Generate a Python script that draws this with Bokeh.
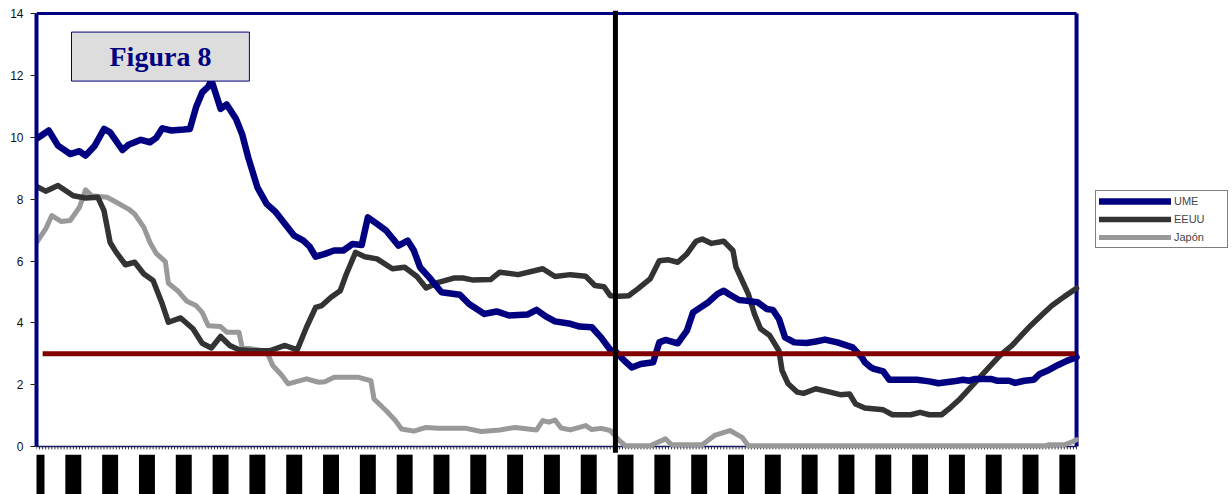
from bokeh.plotting import figure
from bokeh.models import Legend, LegendItem, Label, Range1d, FixedTicker, BoxAnnotation
from bokeh.embed import file_html
from bokeh.resources import INLINE

# ---- data (observation index, value in %) ----
ume_t = [0,4,7,11,14,16,19,22,24,28,30,34,37,39,41,44,48,50,52,54,
         56,57,60,62,65,67,69,72,75,78,81,84,87,89,91,94,97,100,103,106,
         108,111,114,118,121,123,125,128,132,138,141,146,150,154,160,163,166,169,174,177,
         181,184,187,189,191,194,197,201,203,205,209,212,214,219,222,224,226,229,231,235,
         238,240,242,244,247,251,254,257,261,266,267,269,270,272,273,276,278,287,291,294,
         299,302,304,306,311,313,317,319,322,325,327,330,333,336,339]
ume_v = [9.95,10.22,9.73,9.46,9.55,9.41,9.73,10.27,10.16,9.59,
         9.76,9.92,9.84,9.98,10.29,10.22,10.25,10.27,10.97,11.45,
         11.64,11.85,10.92,11.06,10.6,10.11,9.35,8.38,7.85,7.58,
         7.2,6.82,6.66,6.47,6.14,6.23,6.34,6.34,6.55,6.52,
         7.41,7.2,6.98,6.5,6.66,6.34,5.8,5.47,4.99,4.91,
         4.61,4.29,4.37,4.24,4.27,4.42,4.21,4.05,3.97,3.88,
         3.86,3.53,3.13,3.05,2.84,2.56,2.67,2.73,3.37,3.45,
         3.34,3.75,4.34,4.67,4.94,5.04,4.91,4.74,4.72,4.67,
         4.45,4.42,4.13,3.53,3.37,3.35,3.4,3.46,3.37,3.21,
         3.1,2.89,2.73,2.56,2.51,2.43,2.16,2.16,2.11,2.05,
         2.11,2.16,2.13,2.19,2.19,2.13,2.13,2.06,2.13,2.16,
         2.35,2.48,2.64,2.78,2.89]

eeuu_t = [0,3,7,12,16,20,22,24,26,29,32,35,38,41,43,47,51,54,57,60,
          63,66,70,76,81,85,88,91,93,96,99,101,104,107,111,116,120,124,127,131,
          136,139,142,148,151,157,165,169,174,179,182,185,187,190,193,196,200,203,206,209,
          212,215,217,220,224,227,228,230,232,234,236,239,242,243,245,248,250,254,258,262,
          265,267,270,276,279,285,288,291,295,298,301,305,310,314,318,322,324,328,331,335,339]
eeuu_v = [8.41,8.26,8.44,8.11,8.04,8.06,7.63,6.6,6.28,5.88,5.96,5.58,5.37,4.61,4.02,4.16,3.81,3.34,3.19,3.56,
          3.27,3.13,3.1,3.1,3.27,3.13,3.86,4.5,4.56,4.83,5.04,5.58,6.28,6.14,6.07,5.75,5.8,5.5,5.13,5.31,
          5.45,5.45,5.39,5.4,5.64,5.56,5.75,5.5,5.56,5.51,5.21,5.17,4.88,4.86,4.88,5.1,5.42,6.01,6.04,5.96,
          6.23,6.64,6.71,6.57,6.64,6.34,5.8,5.37,4.94,4.29,3.81,3.59,3.1,2.46,2.03,1.76,1.72,1.87,1.78,1.68,
          1.7,1.38,1.25,1.19,1.03,1.03,1.11,1.03,1.03,1.27,1.54,1.97,2.51,2.94,3.27,3.7,3.91,4.29,4.56,4.85,5.12]

jap_t = [0,3,5,8,11,14,16,18,23,26,30,32,35,37,39,42,43,46,49,52,
         54,56,60,62,66,67,72,75,77,80,82,85,88,92,94,97,105,109,110,114,
         117,119,123,127,131,140,145,151,156,163,165,167,169,171,174,179,181,184,187,188,
         190,192,200,205,207,217,221,226,230,232,329,330,335,338,339]
jap_v = [6.6,7.04,7.47,7.28,7.31,7.74,8.3,8.11,8.06,7.9,7.68,7.52,7.09,6.6,6.25,5.98,5.28,5.04,4.7,4.56,
         4.34,3.91,3.88,3.7,3.7,3.21,3.13,3.08,2.62,2.3,2.03,2.11,2.19,2.08,2.1,2.24,2.24,2.13,1.54,1.16,
         0.84,0.57,0.5,0.62,0.59,0.59,0.49,0.54,0.62,0.54,0.84,0.79,0.86,0.6,0.54,0.68,0.55,0.59,0.52,0.41,
         0.19,0.03,0.03,0.25,0.06,0.06,0.36,0.52,0.3,0.03,0.03,0.06,0.06,0.17,0.22]

series_names = ["UME", "EEUU", "Japón"]
series_colors = ["#000080", "#333333", "#999999"]
umbral = 3.0          # horizontal reference level
corte = 188.7         # vertical divider (observation index)
n_obs = 339           # last observation index
etiquetas = list(range(0, 337, 12))   # category label positions (render as solid blocks)
y_ticks = list(range(0, 15, 2))

PX = 3.068   # pixels per observation
PY = 30.93   # pixels per unit of value

W, H = 1232, 494
left_border, top_border = 36, 10
frame_w = W - left_border
frame_h = H - top_border
y_top = 14.1
p = figure(width=W, height=H, output_backend="svg", toolbar_location=None,
           x_range=Range1d(0, frame_w / PX),
           y_range=Range1d(y_top - frame_h / PY, y_top),
           x_axis_location=None,
           min_border_left=left_border, min_border_right=0,
           min_border_top=top_border, min_border_bottom=0)
p.outline_line_color = None
p.grid.visible = False
p.background_fill_color = "white"
p.border_fill_color = "white"

ya = p.yaxis[0]
ya.ticker = FixedTicker(ticks=y_ticks)
ya.bounds = (0, 14)
ya.axis_line_color = "#000080"
ya.axis_line_width = 4
ya.major_tick_out = 6
ya.major_tick_in = 0
ya.minor_tick_out = 0
ya.minor_tick_in = 0
ya.major_tick_line_color = "#222222"
ya.major_label_standoff = 7
ya.major_label_text_font = "Liberation Sans"
ya.major_label_text_font_size = "12px"
ya.major_label_text_color = "#111111"

# frame borders (top, right) and bottom axis line with small ticks
p.segment(x0=[0], y0=[14], x1=[n_obs], y1=[14], line_color="#000080", line_width=3)
p.segment(x0=[n_obs], y0=[0], x1=[n_obs], y1=[14], line_color="#000080", line_width=4)
ticks = list(range(0, n_obs + 1))
p.segment(x0=ticks, y0=[0] * len(ticks), x1=ticks, y1=[-0.09] * len(ticks),
          line_color="#333333", line_width=1)
p.segment(x0=[0], y0=[0], x1=[n_obs], y1=[0], line_color="#1a1a60", line_width=1.5)

# category labels (rendered as solid black blocks in the source)
for t in etiquetas:
    p.add_layout(BoxAnnotation(left=t - 2.6, right=t + 2.6, top=-0.26, bottom=-1.6,
                               fill_color="black", fill_alpha=1.0, line_color=None,
                               line_alpha=0.0, propagate_hover=False))

# series
rj = p.line(jap_t, jap_v, line_color=series_colors[2], line_width=5, line_join="round", line_cap="round")
re = p.line(eeuu_t, eeuu_v, line_color=series_colors[1], line_width=5.5, line_join="round", line_cap="round")
ru = p.line(ume_t, ume_v, line_color=series_colors[0], line_width=6.5, line_join="round", line_cap="round")

# reference lines
p.segment(x0=[2], y0=[umbral], x1=[n_obs - 0.5], y1=[umbral], line_color="#800000", line_width=5)
p.segment(x0=[corte], y0=[-0.2], x1=[corte], y1=[y_top], line_color="black", line_width=5)

legend = Legend(items=[LegendItem(label=n, renderers=[r]) for n, r in zip(series_names, [ru, re, rj])],
                location=(1095 - left_border, H - 248),
                glyph_width=72, glyph_height=14, spacing=4, padding=3,
                label_standoff=3, label_width=50,
                label_text_font="Liberation Sans", label_text_font_size="11px",
                border_line_color="black", border_line_width=1,
                background_fill_color="white", background_fill_alpha=1.0, margin=0)
p.add_layout(legend)

title = Label(x=40.4, y=12.61, text="Figura 8", text_align="center", text_baseline="middle",
              text_font="Liberation Serif", text_font_style="bold", text_font_size="28px",
              text_color="#000080", background_fill_color="#DDDDDD", background_fill_alpha=1.0,
              border_line_color="#000080", border_line_width=1, padding=(38, 9))
p.add_layout(title)

open("out.html", "w").write(file_html(p, INLINE))
